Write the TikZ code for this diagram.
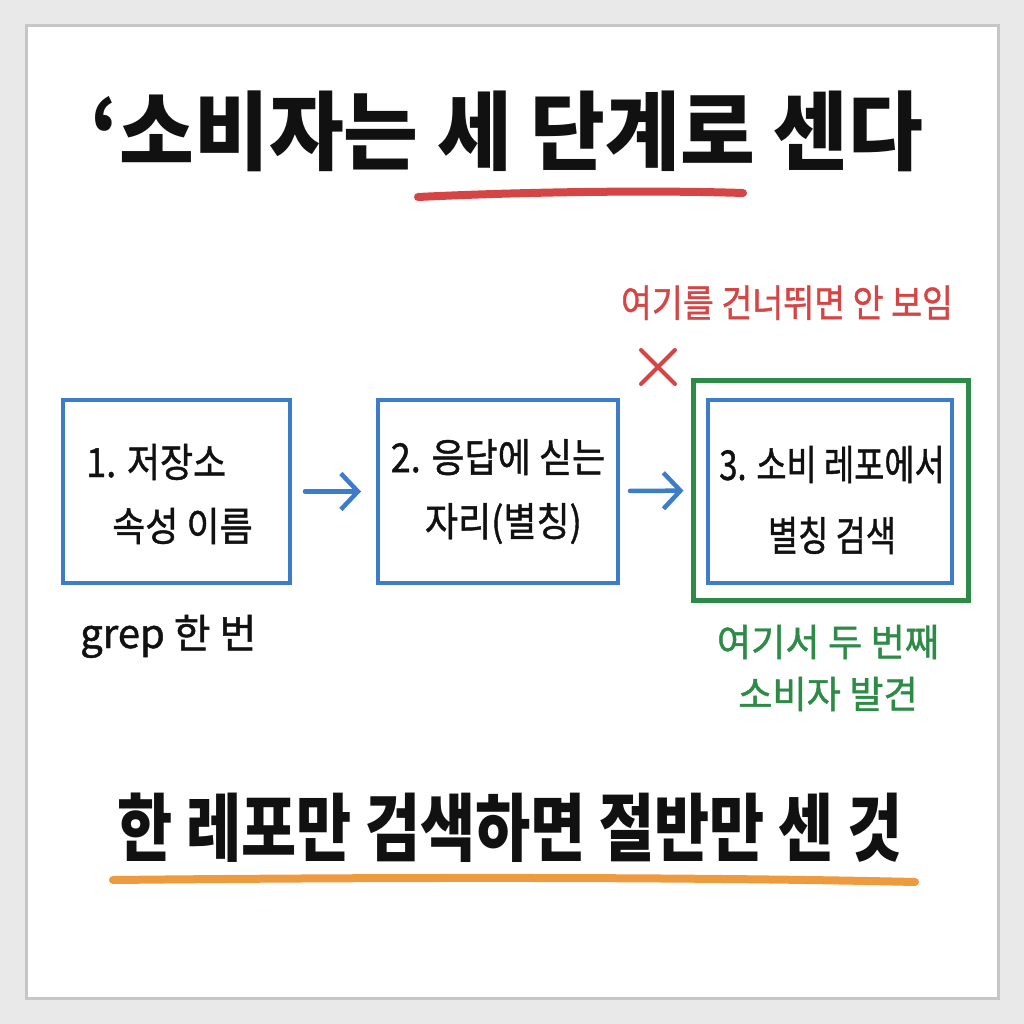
\documentclass[tikz,border=0pt]{standalone}
\usepackage{fontspec}
\usepackage{graphicx}
\setmainfont{Noto Sans CJK KR}
\newfontfamily\medfont{Noto Sans CJK KR}[FakeBold=1.2]
\usetikzlibrary{arrows.meta}
\definecolor{hblue}{HTML}{3D7CC9}
\definecolor{hgreen}{HTML}{2E8B47}
\definecolor{hred}{HTML}{D64545}
\definecolor{horange}{HTML}{EE9A3E}
\definecolor{hink}{HTML}{111111}
\definecolor{bggray}{HTML}{E9E9E9}
\definecolor{framegray}{HTML}{C6C6C6}
\newcommand{\hsx}[2]{\scalebox{#1}[1]{#2}}
\tikzset{
  stepbox/.style={draw=hblue, line width=4pt, fill=white, minimum width=227pt, minimum height=183pt, inner sep=0pt, align=center, text=hink, font=\medfont\fontsize{40}{64}\selectfont},
  boxtext/.style={inner sep=0pt, text=hink, font=\medfont\fontsize{40}{64}\selectfont},
  flowarrow/.style={draw=hblue, line width=4.5pt, line cap=round, line join=round, -{Straight Barb[length=17pt,width=36pt,line width=4.5pt]}},
  uline/.style={line width=8pt, line cap=round},
}
\begin{document}
\begin{tikzpicture}[x=1pt,y=-1pt]
\useasboundingbox (0,0) rectangle (1024,1024);
\fill[bggray] (0,0) rectangle (1024,1024);
\draw[fill=white, draw=framegray, line width=3pt] (26,26) rectangle (998,998);

% title
\node[anchor=base, text=hink, inner sep=0pt, font=\fontsize{86}{90}\selectfont\bfseries] (title) at (507,164) {\hsx{0.945}{‘소비자는 세 단계로 센다}};
\coordinate (tu1) at (418,197);
\coordinate (tu2) at (743,193);
\draw[uline, hred] (tu1) .. controls (520,192) and (650,190) .. (tu2);

% warning
\node[anchor=base, text=hred, inner sep=0pt, font=\medfont\fontsize{38}{40}\selectfont] (warn) at (787,317) {\hsx{0.885}{여기를 건너뛰면 안 보임}};
\coordinate (xa) at (641,350);
\coordinate (xb) at (675,384);
\coordinate (xc) at (675,350);
\coordinate (xd) at (641,384);
\draw[hred, line width=4pt, line cap=round] (xa) -- (xb) (xc) -- (xd);

% boxes
\node[stepbox] (b1) at (176.5,491.5) {};
\node[boxtext, anchor=base west] (b1l1) at (86,477) {\hsx{0.9}{1. 저장소}};
\node[boxtext, anchor=base west] (b1l2) at (112,541) {\hsx{0.9}{속성 이름}};
\node[stepbox, minimum width=240pt] (b2) at (498,491.5) {\hsx{0.9}{2. 응답에 싣는}\\\hsx{0.9}{\hspace{0.3em}자리(별칭)}};
\node[draw=hgreen, line width=5pt, minimum width=275pt, minimum height=220pt, inner sep=0pt] (g3) at (830.5,490) {};
\node[stepbox, minimum width=244pt] (b3) at (830,491.5) {};
\node[align=center, text=hink, inner sep=0pt, font=\medfont\fontsize{41}{71}\selectfont] (b3text) at (832,500) {\hsx{0.8}{3. 소비 레포에서}\\\hsx{0.8}{별칭 검색}};

\draw[flowarrow, shorten <=13pt, shorten >=15pt] (b1) -- (b2);
\draw[flowarrow, shorten <=10pt, shorten >=7pt] (b2) -- (g3);

% notes
\node[anchor=base west, text=hink, inner sep=0pt, font=\medfont\fontsize{40}{44}\selectfont] (grep) at (80,648) {\hsx{1.0}{grep 한 번}};
\node[text=hgreen, inner sep=0pt, align=center, font=\medfont\fontsize{38}{52}\selectfont] (found) at (828,668) {\hsx{0.98}{여기서 두 번째}\\\hsx{0.98}{소비자 발견}};

% bottom line
\node[anchor=base, text=hink, inner sep=0pt, font=\fontsize{74}{80}\selectfont\bfseries] (bottom) at (510,855) {\hsx{0.81}{한 레포만 검색하면 절반만 센 것}};
\coordinate (bu1) at (113,880);
\coordinate (bu2) at (915,882);
\draw[uline, horange] (bu1) .. controls (400,877) and (700,877) .. (bu2);
\end{tikzpicture}
\end{document}
